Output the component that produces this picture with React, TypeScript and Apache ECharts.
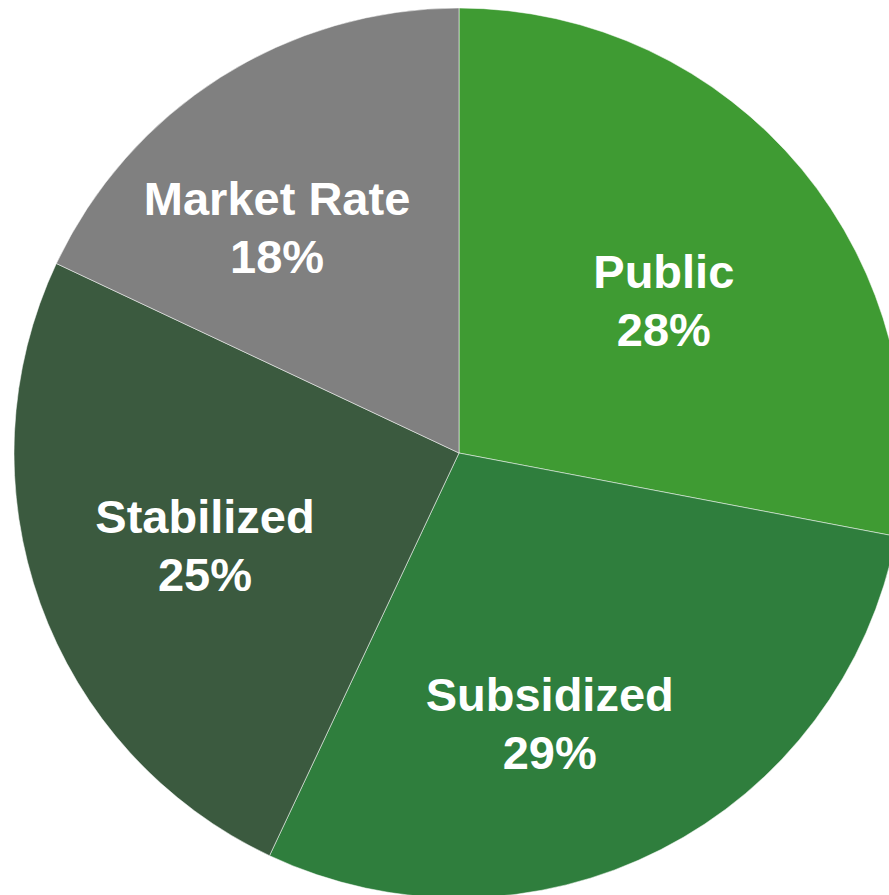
import React, { useEffect, useRef } from "react";
import * as echarts from "echarts";

const categories = ["Public", "Subsidized", "Stabilized", "Market Rate"];
const values = [28, 29, 25, 18];
const colors = ["#3F9B33", "#2F7E3D", "#3B5A3F", "#808080"];

// manual label nudges (layout, not data)
const labelNudge: [number, number][] = [
  [5, 13],
  [-27, 39],
  [-10, 5],
  [-43, -7],
];

const CX = 459;
const CY = 453;
const R = 445;

export default function App() {
  const ref = useRef<HTMLDivElement>(null);
  useEffect(() => {
    if (!ref.current) return;
    const chart = echarts.init(ref.current, null, { renderer: "svg" });
    chart.setOption({
      animation: false,
      backgroundColor: "#ffffff",
      series: [
        {
          type: "pie",
          center: [CX, CY],
          radius: [0, R],
          startAngle: 90,
          clockwise: true,
          itemStyle: { borderColor: "rgba(255,255,255,0.5)", borderWidth: 1 },
          label: {
            show: true,
            position: "inside",
            formatter: (p: any) => `${p.name}\n${p.value}%`,
            color: "#ffffff",
            fontFamily: "Liberation Sans, Arial, sans-serif",
            fontWeight: "bold",
            fontSize: 47,
            lineHeight: 58,
          },
          labelLayout: (p: any) => {
            const lr = p.labelRect;
            const lx = lr.x + lr.width / 2;
            const ly = lr.y + lr.height / 2;
            const k = 1.15;
            const n = labelNudge[p.dataIndex] || [0, 0];
            return {
              dx: (lx - CX) * (k - 1) + n[0],
              dy: (ly - CY) * (k - 1) + n[1],
            };
          },
          data: categories.map((c, i) => ({
            name: c,
            value: values[i],
            itemStyle: { color: colors[i] },
          })),
        },
      ],
    });
    return () => chart.dispose();
  }, []);
  return (
    <div
      ref={ref}
      style={{ position: "fixed", left: 0, top: 0, width: 889, height: 895 }}
    />
  );
}
